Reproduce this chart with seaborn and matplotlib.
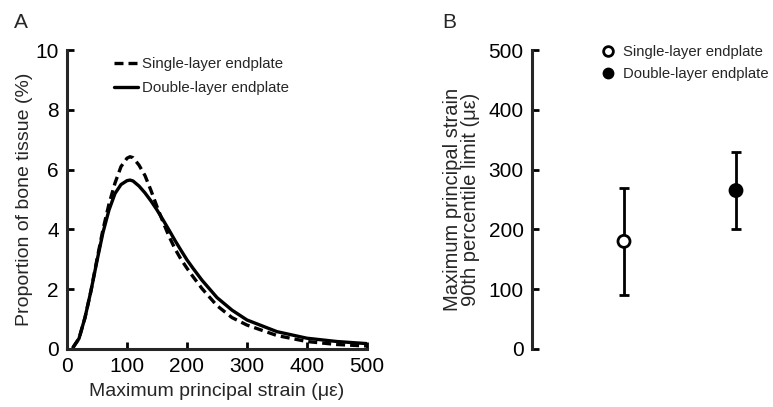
import numpy as np
import pandas as pd
import matplotlib
matplotlib.use("Agg")
import matplotlib.pyplot as plt
import seaborn as sns
from matplotlib.lines import Line2D

sns.set_theme(style="ticks")
plt.rcParams['font.family'] = ['Liberation Sans', 'DejaVu Sans']

# Panel A data
strain = [10, 20, 30, 40, 50, 60, 70, 80, 90, 100, 105, 110, 120, 130, 140, 150, 160, 170,
          180, 190, 200, 210, 225, 250, 275, 300, 350, 400, 450, 500]
single_layer = [0.05, 0.35, 1.05, 1.95, 3.0, 4.0, 4.85, 5.55, 6.1, 6.38, 6.43, 6.4, 6.15, 5.8,
                5.3, 4.76, 4.25, 3.77, 3.35, 3.0, 2.7, 2.42, 2.02, 1.45, 1.05, 0.8, 0.45, 0.25,
                0.15, 0.1]
double_layer = [0.05, 0.35, 1.05, 1.95, 2.95, 3.9, 4.65, 5.2, 5.5, 5.63, 5.65, 5.62, 5.45, 5.22,
                4.95, 4.65, 4.32, 3.98, 3.63, 3.3, 2.98, 2.7, 2.3, 1.72, 1.3, 0.97, 0.58, 0.36,
                0.25, 0.18]
series_names = ["Single-layer endplate", "Double-layer endplate"]

# Panel B data
groups = ["Single-layer endplate", "Double-layer endplate"]
p90_mean = [180, 265]
p90_low = [90, 200]
p90_high = [270, 330]

df = pd.DataFrame({
    "strain": strain * 2,
    "prop": single_layer + double_layer,
    "series": [series_names[0]] * len(strain) + [series_names[1]] * len(strain),
})

fig = plt.figure(figsize=(7.73, 4.07), dpi=100)
W, H = 773, 407
axA = fig.add_axes([67 / W, 1 - 349 / H, 300 / W, 299 / H])
axB = fig.add_axes([532 / W, 1 - 349 / H, (773 - 532) / W, 299 / H])

sns.lineplot(data=df, x="strain", y="prop", style="series", ax=axA,
             color="black", linewidth=2.4, dashes={series_names[0]: (2.7, 1.5), series_names[1]: ""},
             legend=False)
axA.set_xlim(0, 500)
axA.set_ylim(0, 10)
axA.set_xticks([0, 100, 200, 300, 400, 500])
axA.set_yticks([0, 2, 4, 6, 8, 10])
axA.set_xlabel("Maximum principal strain (\u03bc\u03b5)", fontsize=14, labelpad=5)
axA.set_ylabel("Proportion of bone tissue (%)", fontsize=14, labelpad=2)
for s in ["top", "right"]:
    axA.spines[s].set_visible(False)
for s in ["left", "bottom"]:
    axA.spines[s].set_linewidth(2.2)
axA.tick_params(direction="in", length=5, width=2, labelsize=15, pad=6, colors="black")
handlesA = [Line2D([], [], color="black", lw=2.4, ls=(0, (2.7, 1.5))),
            Line2D([], [], color="black", lw=2.4)]
axA.legend(handlesA, series_names, loc="upper left", bbox_to_anchor=(0.113, 1.022),
           frameon=False, fontsize=10.8, handlelength=1.6, handletextpad=0.25, labelspacing=0.7)
fig.text(14 / W, 1 - 28 / H, "A", fontsize=15)

# Panel B
xpos = np.array([0, 1])
yerr = np.array([np.array(p90_mean) - np.array(p90_low), np.array(p90_high) - np.array(p90_mean)])
axB.errorbar(xpos, p90_mean, yerr=yerr, fmt="none", ecolor="black", elinewidth=2,
             capsize=3.5, capthick=2, zorder=2)
dfB = pd.DataFrame({"x": xpos, "y": p90_mean, "group": groups})
sns.scatterplot(data=dfB, x="x", y="y", hue="group", palette={groups[0]: "white", groups[1]: "black"},
                edgecolor="black", linewidth=2, s=75, ax=axB, legend=False, zorder=3)
axB.set_xlim(-(624 - 532) / 112, (773 - 624) / 112)
axB.set_ylim(0, 500)
axB.set_yticks([0, 100, 200, 300, 400, 500])
axB.set_xticks([])
axB.set_xlabel("")
axB.set_ylabel("Maximum principal strain\n90th percentile limit (\u03bc\u03b5)", fontsize=14.5,
               labelpad=6, linespacing=0.95)
for s in ["top", "right", "bottom"]:
    axB.spines[s].set_visible(False)
axB.spines["left"].set_linewidth(2.2)
axB.tick_params(axis="y", direction="in", length=5, width=2, labelsize=15, pad=6, colors="black")
handlesB = [Line2D([], [], marker="o", color="none", markerfacecolor="white", markeredgecolor="black",
                   markeredgewidth=2, markersize=7),
            Line2D([], [], marker="o", color="none", markerfacecolor="black", markeredgecolor="black",
                   markersize=7.5)]
axB.legend(handlesB, groups, loc="upper left", bbox_to_anchor=(0.229, 1.06), frameon=False,
           fontsize=10.7, handlelength=1.0, handletextpad=0.5, labelspacing=0.5)
fig.text(442 / W, 1 - 28 / H, "B", fontsize=15)

fig.savefig("out.png", dpi=100)
